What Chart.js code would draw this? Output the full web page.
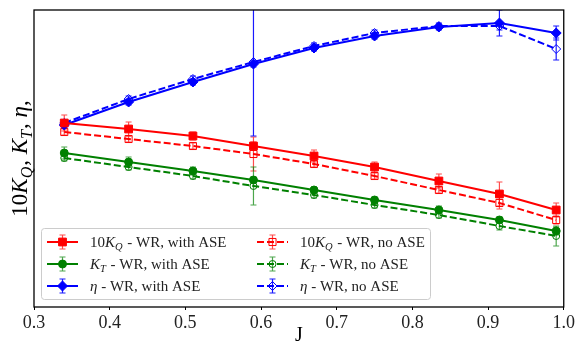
<!DOCTYPE html>
<html>
<head>
<meta charset="utf-8">
<script src="https://cdn.jsdelivr.net/npm/chart.js@4.4.1/dist/chart.umd.min.js"></script>
<style>
  html, body { margin: 0; padding: 0; background: #fff; }
  #wrap { width: 577px; height: 345px; }
</style>
</head>
<body>
<div id="wrap"><canvas id="grafico" width="577" height="345"></canvas></div>
<script>
// advance ratio J
const J = [0.34, 0.425, 0.51, 0.59, 0.67, 0.75, 0.835, 0.915, 0.99];

// 10KQ
const kqWith = [0.46, 0.445, 0.4275, 0.4025, 0.3775, 0.35, 0.315, 0.2825, 0.2425];
const kqWithErr = [0.02, 0.0175, 0.01, 0.01, 0.015, 0.0125, 0.0175, 0.03, 0.0175];
const kqNo = [0.4375, 0.42, 0.4025, 0.3825, 0.3575, 0.3275, 0.2925, 0.26, 0.2175];
const kqNoErr = [0.0075, 0.0075, 0.0075, 0.0425, 0.0075, 0.0075, 0.0075, 0.015, 0.01];

// KT
const ktWith = [0.385, 0.3625, 0.34, 0.3175, 0.2925, 0.2675, 0.2425, 0.2175, 0.19];
const ktWithErr = [0.015, 0.0125, 0.01, 0.0075, 0.0075, 0.0075, 0.01, 0.0075, 0.01];
const ktNo = [0.3725, 0.35, 0.3275, 0.3025, 0.28, 0.255, 0.23, 0.2025, 0.1775];
const ktNoErr = [0.0075, 0.0075, 0.0075, 0.0475, 0.0075, 0.0075, 0.0075, 0.01, 0.025];

// eta
const etaWith = [0.455, 0.5125, 0.5625, 0.6075, 0.6475, 0.6775, 0.70, 0.71, 0.685];
const etaWithErr = [0.0075, 0.0075, 0.0075, 0.0075, 0.0075, 0.0075, 0.0075, 0.0325, 0.0175];
const etaNo = [0.46, 0.52, 0.57, 0.6125, 0.6525, 0.685, 0.7025, 0.7025, 0.645];
const etaNoErr = [0.0075, 0.0075, 0.0075, 0.185, 0.0075, 0.0075, 0.0075, 0.01, 0.0275];

const xTicks = [0.3, 0.4, 0.5, 0.6, 0.7, 0.8, 0.9, 1.0];

const SERIF = '"Liberation Serif", "DejaVu Serif", serif';
const RED = '#ff0000', GREEN = '#008000', BLUE = '#0000ff';

const estilos = {
  kq: { cor: RED, ponto: 'rect', raio: 5.5, alfaErro: 0.7 },
  kt: { cor: GREEN, ponto: 'circle', raio: 4, alfaErro: 0.7 },
  eta: { cor: BLUE, ponto: 'rectRot', raio: 5, alfaErro: 0.9 },
};

// pedaços de texto com itálico / subscrito
const rotulos = {
  kq: [{ t: '10' }, { t: 'K', i: true }, { t: 'Q', i: true, sub: true }],
  kt: [{ t: 'K', i: true }, { t: 'T', i: true, sub: true }],
  eta: [{ t: 'η', i: true }],
};

function montarSerie(tipo, valores, erros, comASE) {
  const e = estilos[tipo];
  return {
    tipo: tipo,
    comASE: comASE,
    erros: erros,
    alfaErro: e.alfaErro,
    data: J.map((j, k) => ({ x: j, y: valores[k] })),
    borderColor: e.cor,
    borderWidth: 2,
    borderDash: comASE ? [] : [7, 3],
    pointStyle: e.ponto,
    pointRadius: comASE ? e.raio : e.raio - 0.5,
    pointBorderWidth: 1,
    pointBorderColor: e.cor,
    pointBackgroundColor: comASE ? e.cor : 'rgba(0,0,0,0)',
    tension: 0,
  };
}

function medirRico(ctx, partes, tam) {
  let w = 0;
  partes.forEach(p => {
    const s = p.sub ? tam * 0.7 : tam;
    ctx.font = (p.i ? 'italic ' : '') + s + 'px ' + SERIF;
    w += ctx.measureText(p.t).width + (p.sub ? 1 : 0);
  });
  return w;
}

function desenharRico(ctx, partes, x, y, tam) {
  ctx.textBaseline = 'alphabetic';
  ctx.textAlign = 'left';
  partes.forEach(p => {
    const s = p.sub ? tam * 0.7 : tam;
    ctx.font = (p.i ? 'italic ' : '') + s + 'px ' + SERIF;
    ctx.fillText(p.t, x, y + (p.sub ? tam * 0.22 : 0));
    x += ctx.measureText(p.t).width + (p.sub ? 1 : 0);
  });
  return x;
}

// barras de erro desenhadas com as escalas do gráfico
const pluginErros = {
  id: 'erros',
  beforeDatasetsDraw(chart) {
    const ctx = chart.ctx;
    const xs = chart.scales.x, ys = chart.scales.y;
    const a = chart.chartArea;
    ctx.save();
    ctx.beginPath();
    ctx.rect(a.left, a.top, a.right - a.left, a.bottom - a.top);
    ctx.clip();
    chart.data.datasets.forEach(ds => {
      ctx.strokeStyle = ds.borderColor;
      ctx.globalAlpha = ds.alfaErro;
      ctx.lineWidth = 1.2;
      ds.data.forEach((p, k) => {
        const px = xs.getPixelForValue(p.x);
        const y1 = ys.getPixelForValue(p.y + ds.erros[k]);
        const y2 = ys.getPixelForValue(p.y - ds.erros[k]);
        ctx.beginPath();
        ctx.moveTo(px, y1); ctx.lineTo(px, y2);
        ctx.moveTo(px - 3, y1); ctx.lineTo(px + 3, y1);
        ctx.moveTo(px - 3, y2); ctx.lineTo(px + 3, y2);
        ctx.stroke();
      });
    });
    ctx.restore();
  },
  afterDraw(chart) {
    const ctx = chart.ctx;
    const a = chart.chartArea;
    ctx.save();
    // moldura
    ctx.strokeStyle = '#000';
    ctx.lineWidth = 1.3;
    ctx.strokeRect(a.left, a.top, a.right - a.left, a.bottom - a.top);

    // rótulo do eixo y
    const partesY = [].concat(rotulos.kq, [{ t: ', ' }], rotulos.kt, [{ t: ', ' }], rotulos.eta, [{ t: ',' }]);
    const tamY = 23;
    ctx.translate(20, (a.top + a.bottom) / 2);
    ctx.rotate(-Math.PI / 2);
    ctx.fillStyle = '#000';
    const wY = medirRico(ctx, partesY, tamY);
    desenharRico(ctx, partesY, -wY / 2, 7, tamY);
    ctx.restore();

    // legenda
    ctx.save();
    const bx = 41, by = 228, bw = 389, bh = 71;
    ctx.fillStyle = 'rgba(255,255,255,0.85)';
    ctx.strokeStyle = '#cccccc';
    ctx.lineWidth = 1;
    ctx.beginPath();
    ctx.roundRect(bx + 0.5, by + 0.5, bw, bh, 3);
    ctx.fill();
    ctx.stroke();

    const linhas = [242, 264, 286];
    const colunas = [47, 257];
    chart.data.datasets.forEach(ds => {
      const col = colunas[ds.comASE ? 0 : 1];
      const ly = linhas[['kq', 'kt', 'eta'].indexOf(ds.tipo)];
      const cx = col + 15.5;
      ctx.save();
      ctx.strokeStyle = ds.borderColor;
      ctx.lineWidth = 2;
      ctx.setLineDash(ds.borderDash);
      ctx.beginPath();
      ctx.moveTo(col, ly); ctx.lineTo(col + 31, ly);
      ctx.stroke();
      ctx.setLineDash([]);
      ctx.globalAlpha = ds.alfaErro;
      ctx.lineWidth = 1.2;
      ctx.beginPath();
      ctx.moveTo(cx, ly - 7); ctx.lineTo(cx, ly + 7);
      ctx.moveTo(cx - 3, ly - 7); ctx.lineTo(cx + 3, ly - 7);
      ctx.moveTo(cx - 3, ly + 7); ctx.lineTo(cx + 3, ly + 7);
      ctx.stroke();
      ctx.globalAlpha = 1;
      ctx.fillStyle = ds.pointBackgroundColor;
      ctx.lineWidth = 1;
      Chart.helpers.drawPoint(ctx, { pointStyle: ds.pointStyle, radius: ds.pointRadius, rotation: 0, borderWidth: 1 }, cx, ly);
      ctx.restore();

      ctx.fillStyle = '#222';
      const texto = rotulos[ds.tipo].concat([{ t: ds.comASE ? ' - WR, with ASE' : ' - WR, no ASE' }]);
      desenharRico(ctx, texto, col + 43, ly + 5, 15);
    });
    ctx.restore();
  },
};

const ctx = document.getElementById('grafico');
new Chart(ctx, {
  type: 'line',
  data: {
    datasets: [
      montarSerie('kq', kqWith, kqWithErr, true),
      montarSerie('kt', ktWith, ktWithErr, true),
      montarSerie('eta', etaWith, etaWithErr, true),
      montarSerie('kq', kqNo, kqNoErr, false),
      montarSerie('kt', ktNo, ktNoErr, false),
      montarSerie('eta', etaNo, etaNoErr, false),
    ],
  },
  options: {
    responsive: false,
    animation: false,
    clip: false,
    layout: { padding: { left: 34, right: 13, top: 10, bottom: 0 } },
    plugins: { legend: { display: false }, tooltip: { enabled: false } },
    scales: {
      x: {
        type: 'linear',
        min: 0.3,
        max: 1.0,
        afterBuildTicks: s => { s.ticks = xTicks.map(v => ({ value: v })); },
        afterFit: s => { s.height = 38; },
        border: { display: false },
        grid: { display: true, drawOnChartArea: false, drawTicks: true, tickLength: 3, color: '#000' },
        ticks: {
          color: '#222',
          padding: 2,
          maxRotation: 0,
          font: { family: SERIF, size: 18 },
          callback: v => v.toFixed(1),
        },
        title: {
          display: true,
          text: 'J',
          color: '#000',
          font: { family: SERIF, size: 20, lineHeight: 0.9 },
          padding: { top: 0, bottom: 0 },
        },
      },
      y: {
        display: false,
        min: 0,
        max: 0.7425,
      },
    },
  },
  plugins: [pluginErros],
});
</script>
</body>
</html>
